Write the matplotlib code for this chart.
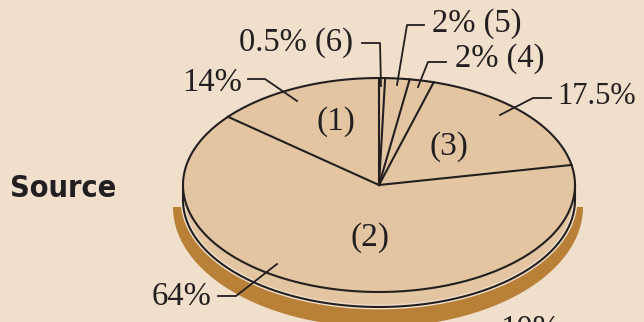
import numpy as np
import matplotlib
matplotlib.use('Agg')
from matplotlib import pyplot as plt

# slice shares in percent, counter-clockwise from 12 o'clock
shares = [14, 64, 17.5, 2, 2, 0.5]
slice_names = ['(1)', '(2)', '(3)', '', '', '']
pct_labels = ['14%', '64%', '17.5%', '2% (4)', '2% (5)', '0.5% (6)']
extra_label = '10%'
title = 'Source'

bg = '#f0dfca'
fill = '#e3c5a1'
shadow = '#b98038'
ink = '#231f20'

cx, cy = 379, 185
a, b = 196, 107
depth = 15

fig = plt.figure(figsize=(6.44, 3.22), dpi=100)
fig.patch.set_facecolor(bg)
ax = fig.add_axes([0, 0, 1, 1])
ax.set_xlim(0, 644)
ax.set_ylim(322, 0)
ax.axis('off')

def ell(t, x0=cx, y0=cy, ra=a, rb=b):
    t = np.radians(t)
    return x0 + ra * np.cos(t), y0 - rb * np.sin(t)

# shadow crescent under the disc
t = np.linspace(180, 360, 200)
sx, sy = ell(t, 378, 207, 205, 120)
ax.fill(np.r_[sx, sx[::-1]], np.r_[sy, np.full_like(sy, 207)], color=shadow, lw=0, zorder=1)

# side of the disc
tx, ty = ell(t)
bx, by = ell(t, cx, cy + depth)
ax.fill(np.r_[tx, bx[::-1]], np.r_[ty, by[::-1]], color=fill, lw=0, zorder=2)
ax.plot(bx, by, color=bg, lw=3.5, zorder=2)
ax.plot(bx, by, color=ink, lw=1.5, zorder=3)
ax.plot([cx - a, cx - a], [cy, cy + depth], color=ink, lw=1.5, zorder=3)
ax.plot([cx + a, cx + a], [cy, cy + depth], color=ink, lw=1.5, zorder=3)

# top face
t_all = np.linspace(0, 360, 400)
ex, ey = ell(t_all)
ax.fill(ex, ey, color=fill, lw=0, zorder=4)
ax.plot(ex, ey, color=ink, lw=1.5, zorder=5)

bounds = 90 + np.cumsum([0] + shares) * 3.6
for ang in bounds[:-1]:
    px, py = ell(ang)
    ax.plot([cx, px], [cy, py], color=ink, lw=1.5, zorder=5)

serif = ['Liberation Serif', 'DejaVu Serif']

# names inside the slices
name_pos = [(336, 122), (370, 238), (449, 147)]
for name, (x, y) in zip(slice_names[:3], name_pos):
    ax.text(x, y, name, ha='center', va='center', fontsize=24, family=serif,
            color=ink, zorder=6)

# percentage labels with leader lines
label_pos = [(242, 83, 'right'), (212, 297, 'right'), (557, 96, 'left'),
             (455, 59, 'left'), (432, 24, 'left'), (353, 43, 'right')]
leaders = [
    [(248, 79), (265, 79), (297, 101)],
    [(218, 296), (236, 296), (277, 264)],
    [(551, 98), (533, 98), (500, 115)],
    [(446, 62), (428, 62), (418, 87)],
    [(424, 25), (407, 25), (397, 85)],
    [(362, 43), (380, 43), (381, 86)],
]
for lab, (x, y, ha), pts in zip(pct_labels, label_pos, leaders):
    size = 22 if lab == '17.5%' else 23.5
    ax.text(x, y, lab, ha=ha, va='center', fontsize=size, family=serif,
            color=ink, zorder=6)
    lx, ly = zip(*pts)
    ax.plot(lx, ly, color=ink, lw=1.3, zorder=6)

ax.text(500, 315, extra_label, ha='left', va='top', fontsize=23.5, family=serif,
        color=ink, zorder=6)

ax.text(10, 197, title, ha='left', va='baseline', fontsize=22, fontweight='bold',
        family=['Liberation Sans Narrow', 'DejaVu Sans'], stretch='condensed',
        color=ink)

fig.savefig('out.png', dpi=100, facecolor=bg)
